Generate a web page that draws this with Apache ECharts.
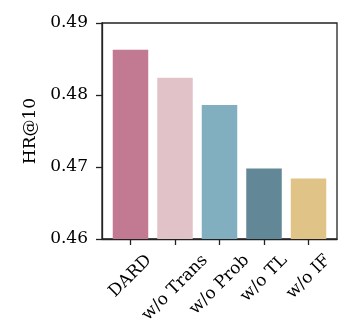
<!DOCTYPE html>
<html><head><meta charset="utf-8">
<script src="https://cdn.jsdelivr.net/npm/echarts@6/dist/echarts.min.js"></script>
<style>html,body{margin:0;padding:0;background:#fff}#c{width:341px;height:330px}</style>
</head><body><div id="c"></div>
<script>
const categories = ['DARD', 'w/o Trans', 'w/o Prob', 'w/o TL', 'w/o IF'];
const values = [0.4863, 0.4824, 0.4786, 0.4698, 0.4684];
const colors = ['#C17A92', '#E2C2C9', '#82AFBF', '#628796', '#E0C386'];
const yTicks = [0.46, 0.47, 0.48, 0.49];
const yName = 'HR@10';

const font = 'DejaVu Serif';
const fs = 17;
const axisCol = '#222';
const lw = 1.3;

// measure label widths so rotated labels can be centred under their ticks (matplotlib style)
const cv = document.createElement('canvas').getContext('2d');
cv.font = fs + 'px "' + font + '"';
const widths = categories.map(c => cv.measureText(c).width);
const wMax = Math.max(...widths);
const H = fs * 1.2;
const T0 = 11.5;
const margin = T0 + 0.7071 * (wMax + H) / 2;
const rich = {};
categories.forEach((c, i) => {
  const p = (wMax - widths[i]) / 2;
  rich['l' + i] = {fontFamily: font, fontSize: fs, color: '#000', padding: [0, 0, p, p]};
});

const chart = echarts.init(document.getElementById('c'), null, {renderer: 'canvas'});
const positions = categories.map((_, i) => i);
chart.setOption({
  animation: false,
  grid: {left: 102, right: 4, top: 23, bottom: 91, show: true, borderColor: axisCol, borderWidth: lw, backgroundColor: 'transparent'},
  xAxis: {
    type: 'value', min: -0.64, max: 4.64,
    splitLine: {show: false},
    axisLine: {show: true, onZero: false, lineStyle: {color: axisCol, width: lw}},
    axisTick: {show: true, customValues: positions, length: 6, lineStyle: {color: axisCol, width: lw}},
    axisLabel: {customValues: positions, rotate: 45, margin: margin, align: 'center', verticalAlign: 'middle',
      fontFamily: font, fontSize: fs, color: '#000', rich: rich,
      formatter: v => { const i = Math.round(v); return '{l' + i + '|' + categories[i] + '}'; }}
  },
  yAxis: {
    type: 'value', min: yTicks[0], max: yTicks[yTicks.length - 1], interval: 0.01,
    name: yName, nameLocation: 'middle', nameGap: 61, nameRotate: 90,
    nameTextStyle: {fontFamily: font, fontSize: fs, color: '#000'},
    splitLine: {show: false},
    axisLine: {show: true, onZero: false, lineStyle: {color: axisCol, width: lw}},
    axisTick: {show: true, length: 6, lineStyle: {color: axisCol, width: lw}},
    axisLabel: {fontFamily: font, fontSize: fs, color: '#000', margin: 14, formatter: v => v.toFixed(2)}
  },
  series: [{
    type: 'bar',
    barWidth: 35.5,
    data: values.map((v, i) => ({value: [i, v], itemStyle: {color: colors[i]}}))
  }]
});
</script></body></html>
